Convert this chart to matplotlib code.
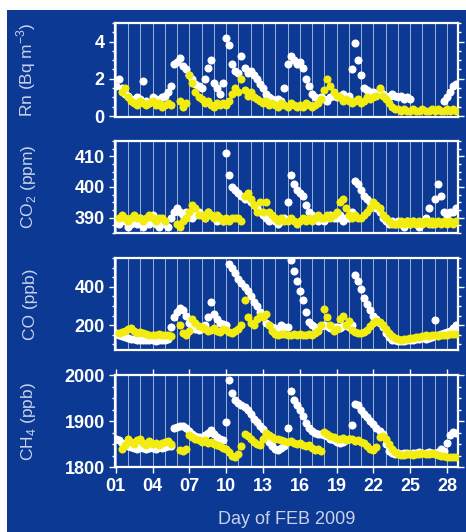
import numpy as np
import matplotlib
matplotlib.use("Agg")
import matplotlib.pyplot as plt
from matplotlib.patches import Rectangle
from matplotlib.ticker import AutoMinorLocator

nan = np.nan

# sampling time: every 6 h from 1 Feb 00:00 (day-of-month units)
days = 1 + 0.25 * np.arange(112)

# Rn (Bq m-3), 4 values per day, days 01..28
rn_white = [1.6, 2.0, 1.5, 1.2, 1.1, 0.9, 0.8, 1.0, 0.9, 1.9, 0.8, 0.7,
            1.0, 0.9, 0.8, 1.0, 1.1, 1.3, 1.6, 2.8, 2.9, 3.1, 2.7, 2.5,
            2.2, 2.0, 1.7, 1.6, 1.5, 2.0, 2.6, 3.0, 1.8, 1.5, 1.2, 1.8,
            4.2, 3.8, 2.8, 2.4, 2.3, 3.2, 2.6, 2.3, 2.4, 2.2, 2.0, 1.7,
            1.5, 1.2, 1.0, 0.9, 0.8, 0.9, 0.8, 1.5, 2.8, 3.2, 3.0, 2.8,
            2.9, 2.6, 2.0, 1.6, 1.2, 1.0, 0.9, 1.0, 0.9, 0.8, 1.0, 1.1,
            1.0, 1.1, 1.2, 1.0, 1.1, 2.5, 3.9, 3.0, 2.2, 1.5, 1.4, 1.3,
            1.3, 1.2, 1.4, 1.2, 1.1, 1.0, 1.2, 1.1, 1.0, 1.1, 0.9, 1.0,
            0.9, nan, nan, nan, nan, nan, nan, nan, nan, nan, nan, 0.8,
            1.0, 1.3, 1.6, 1.7]
rn_yellow = [nan, nan, 1.3, 1.5, 1.0, 0.8, 0.7, 0.6, 0.8, 0.7, 0.6, 0.7,
             0.8, 0.6, 0.7, 0.5, 0.6, 0.7, 0.6, nan, nan, 0.8, 0.5, 0.7,
             2.2, 1.8, 1.3, 1.0, 0.9, 0.7, 0.8, 0.6, 0.5, 0.7, 0.6, 0.7,
             0.6, 0.8, 1.2, 1.5, 1.3, 2.0, 1.4, 1.1, 1.3, 1.0, 0.9, 0.8,
             0.7, 0.8, 0.6, 0.7, 0.6, 0.5, 0.7, 0.6, 0.5, 0.7, 0.6, 0.5,
             0.6, 0.5, 0.7, 0.6, 0.5, 0.6, 0.7, 0.9, 1.4, 2.0, 1.6, 1.3,
             1.1, 1.0, 0.8, 0.9, 0.8, 0.7, 0.8, 0.9, 0.7, 0.8, 1.0, 0.9,
             1.0, 1.1, 1.5, 1.1, 0.9, 0.7, 0.5, 0.4, 0.4, 0.3, 0.4, 0.3,
             0.3, 0.4, 0.3, 0.3, 0.4, 0.3, 0.3, 0.4, 0.3, 0.4, 0.3, 0.3,
             0.4, 0.3, 0.4, 0.3]

# CO2 (ppm)
co2_white = [389, 388, 390, 389, 387, 388, 389, 388, 390, 387, 389, 388,
             391, 388, 387, 389, 388, 387, 390, 392, 393, 392, 391, 392,
             391, 390, 391, 392, 391, 390, 392, 391, 390, 389, 390, 389,
             411, 404, 400, 399, 398, 397, 396, 396, 395, 394, 393, 392,
             391, 390, 389, 390, 389, 388, 389, 390, 395, 404, 401, 399,
             398, 397, 394, 392, 391, 390, 389, 390, 389, 390, 391, 390,
             390, 391, 389, 390, 390, 392, 402, 401, 399, 397, 396, 395,
             394, 393, 392, 390, 389, 388, 389, 388, 389, 388, 387, 389,
             388, 389, 388, 387, 388, 390, 393, 388, 396, 401, 397, 392,
             391, 392, 392, 393]
co2_yellow = [nan, 390, 391, 390, 389, 390, 391, 390, 390, 389, 390, 391,
              390, 389, 390, 390, 389, nan, nan, nan, 388, 387, 389, 390,
              392, 394, 393, 391, 391, 390, 392, 391, 390, 391, 390, 389,
              390, 389, 390, 390, 390, 389, 397, 398, 396, 394, 392, 395,
              392, 395, 392, 391, 390, 389, 390, 389, 389, 390, 389, 388,
              389, 390, 389, 390, 389, 390, 391, 390, 390, 391, 390, 391,
              392, 395, 396, 393, 391, 390, 391, 390, 390, 391, 392, 393,
              395, 394, 393, 391, 390, 389, 388, 388, 388, 389, 388, 389,
              388, 389, 388, 389, 388, 389, 388, 389, 388, 389, 388, 389,
              388, 389, 388, 389]

# CO (ppb)
co_white = [160, 150, 145, 140, 135, 130, 128, 125, 122, 120, 122, 120,
            120, 118, 120, 122, 125, 130, 190, 240, 270, 290, 280, 250,
            210, 190, 180, 175, 185, 200, 240, 320, 260, 230, 210, 205,
            200, 520, 500, 470, 440, 420, 400, 380, 350, 320, 300, 270,
            240, 210, 200, 190, 185, 180, 200, 190, 190, 540, 480, 430,
            380, 330, 270, 215, 200, 190, 185, 195, 200, 195, 185, 190,
            190, 185, 195, 200, 190, 200, 460, 430, 390, 340, 310, 280,
            250, 230, 210, 190, 160, 140, 125, 120, 118, 115, 118, 120,
            122, 125, 128, 130, 132, 130, 135, 138, 226, 150, 155, 160,
            165, 170, 185, 200]
co_yellow = [nan, 160, 165, 170, 180, 185, 170, 160, 165, 160, 155, 150,
             150, 148, 152, 150, 150, 148, 145, nan, nan, 200, 160, 150,
             170, 230, 210, 195, 190, 180, 170, 175, 185, 170, 165, 180,
             175, 165, 160, 170, 180, 200, 330, 240, 210, 200, 230, 250,
             240, 260, 200, 170, 155, 150, 152, 155, 150, 148, 155, 150,
             152, 150, 148, 155, 150, 160, 170, 200, 285, 240, 200, 170,
             180, 230, 250, 200, 220, 175, 165, 160, 160, 165, 175, 195,
             210, 220, 215, 200, 180, 160, 145, 135, 130, 125, 128, 130,
             132, 135, 138, 140, 145, 148, 145, 150, 150, 145, 148, 150,
             150, 155, 152, 155]

# CH4 (ppb)
ch4_white = [1860, 1858, 1852, 1848, 1845, 1843, 1842, 1840, 1843, 1841, 1840, 1842,
             1841, 1840, 1843, 1842, 1844, 1845, 1846, 1884, 1887, 1889, 1890, 1885,
             1878, 1872, 1868, 1865, 1866, 1870, 1875, 1880, 1872, 1866, 1862, 1858,
             1898, 1990, 1960, 1945, 1940, 1935, 1930, 1925, 1915, 1905, 1898, 1890,
             1882, 1870, 1855, 1845, 1840, 1838, 1842, 1845, 1884, 1965, 1945, 1935,
             1925, 1910, 1895, 1885, 1878, 1875, 1873, 1872, 1870, 1868, 1862, 1858,
             1855, 1852, 1855, 1858, 1860, 1891, 1938, 1935, 1925, 1915, 1908, 1900,
             1893, 1885, 1878, 1872, 1850, 1835, 1830, 1828, 1830, 1829, 1831, 1830,
             1829, 1831, 1830, 1832, 1831, 1830, 1832, 1831, 1830, 1832, 1840, 1835,
             1852, 1870, 1876, 1874]
ch4_yellow = [nan, nan, 1840, 1848, 1862, 1855, 1850, 1858, 1860, 1852, 1848, 1856,
              1850, 1853, 1848, 1852, 1855, 1857, 1850, nan, nan, 1838, 1836, 1840,
              1870, 1866, 1860, 1858, 1855, 1858, 1852, 1855, 1850, 1848, 1845, 1842,
              1840, 1832, 1825, 1822, 1828, 1845, 1872, 1868, 1862, 1855, 1850, 1848,
              1860, 1875, 1870, 1865, 1862, 1860, 1858, 1857, 1855, 1856, 1853, 1850,
              1852, 1848, 1845, 1848, 1842, 1838, 1840, 1836, 1877, 1872, 1868, 1865,
              1862, 1860, 1863, 1858, 1860, 1862, 1856, 1858, 1855, 1852, 1845, 1840,
              1838, 1843, 1866, 1868, 1860, 1850, 1840, 1832, 1828, 1826, 1827, 1828,
              1828, 1827, 1829, 1828, 1830, 1829, 1828, 1830, 1828, 1826, 1825, 1824,
              1823, 1822, 1822, 1823]

panels = [
    (rn_white, rn_yellow, 'Rn (Bq m$^{-3}$)', (-0.05, 5.0), [0, 2, 4]),
    (co2_white, co2_yellow, 'CO$_2$ (ppm)', (385, 415), [390, 400, 410]),
    (co_white, co_yellow, 'CO (ppb)', (70, 550), [200, 400]),
    (ch4_white, ch4_yellow, 'CH$_4$ (ppb)', (1800, 2000), [1800, 1900, 2000]),
]
xticks = [1, 4, 7, 10, 13, 16, 19, 22, 25, 28]

blue = '#0c3994'
yellow = '#f2ec10'
label_col = '#c9d2ec'
plt.rcParams['font.family'] = ['Liberation Sans', 'DejaVu Sans']
plt.rcParams['mathtext.fontset'] = 'custom'
plt.rcParams['mathtext.rm'] = 'Liberation Sans'

fig = plt.figure(figsize=(4.66, 5.32), dpi=100, facecolor='white')
fig.patches.append(Rectangle((7 / 466, 0), 1, 1 - 10 / 532, transform=fig.transFigure,
                             facecolor=blue, edgecolor='none', zorder=-5))

bottoms = [0.780, 0.562, 0.342, 0.122]
heights = [0.177, 0.173, 0.173, 0.173]

for i, (wv, yv, lab, ylim, yt) in enumerate(panels):
    ax = fig.add_axes([0.247, bottoms[i], 0.736, heights[i]])
    ax.set_facecolor(blue)
    for d in range(1, 29):
        ax.axvline(d, color='white', lw=0.7, alpha=0.6, zorder=1)
    ax.plot(days, wv, 'o', color='white', ms=5.8, mec='none', zorder=2)
    ax.plot(days, yv, 'o', color=yellow, ms=5.8, mec='none', zorder=3)
    ax.set_xlim(0.95, 28.9)
    ax.set_ylim(*ylim)
    ax.set_yticks(yt)
    ax.yaxis.set_minor_locator(AutoMinorLocator(4))
    for s in ax.spines.values():
        s.set_color('white')
        s.set_linewidth(1.6)
    ax.tick_params(axis='y', which='both', colors='white', direction='out', right=True,
                   labelsize=13, width=1, length=4)
    ax.tick_params(axis='y', which='minor', length=2)
    for t in ax.get_yticklabels():
        t.set_fontweight('bold')
    ax.set_ylabel(lab, color=label_col, fontsize=12.5)
    ax.yaxis.set_label_coords(-0.225, 0.5)
    ax.set_xticks(xticks)
    if i == 3:
        ax.set_xticklabels(['%02d' % d for d in xticks], fontweight='bold')
        ax.tick_params(axis='x', colors='white', direction='out', top=True,
                       labelsize=13, width=1, length=4)
        ax.set_xlabel('Day of FEB 2009', color=label_col, fontsize=13, labelpad=12)
    else:
        ax.tick_params(axis='x', bottom=False, labelbottom=False)

fig.savefig('out.png', dpi=100, facecolor=fig.get_facecolor())
